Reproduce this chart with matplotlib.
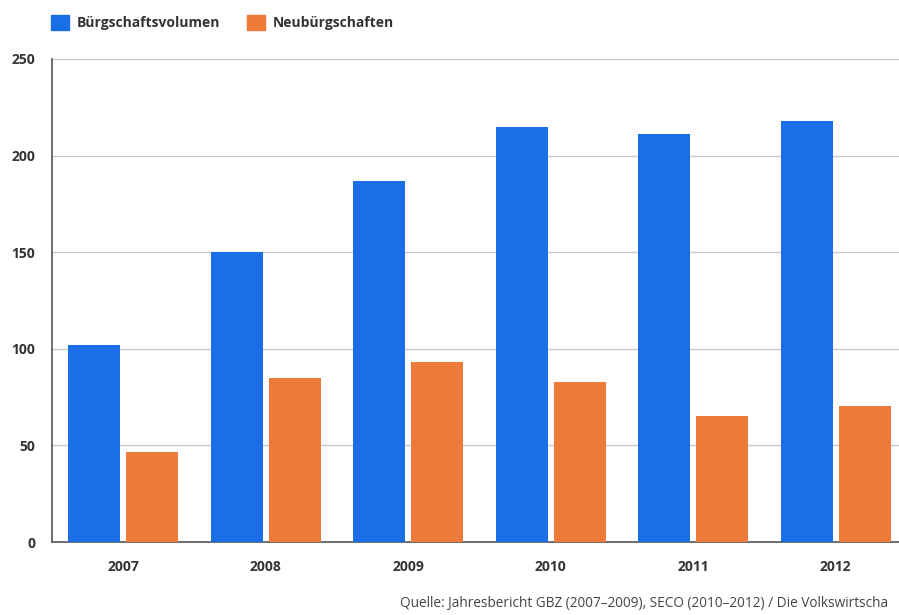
import matplotlib
matplotlib.use("Agg")
import matplotlib.pyplot as plt
import numpy as np
from matplotlib.patches import Patch

years = ["2007", "2008", "2009", "2010", "2011", "2012"]
volumen = [102, 150, 187, 215, 211, 218]
neu = [46.5, 85, 93, 83, 65, 70.5]
series_names = ["Bürgschaftsvolumen", "Neubürgschaften"]
source = "Quelle: Jahresbericht GBZ (2007–2009), SECO (2010–2012) / Die Volkswirtscha"

blue = "#1a6fe6"
orange = "#ef7b3b"
txt = "#333333"

plt.rcParams['font.family'] = ['Open Sans', 'DejaVu Sans']

fig = plt.figure(figsize=(8.99, 6.15), dpi=100)
ax = fig.add_axes([52/899, 1-542/615, 855/899, (542-59)/615])

x = np.arange(len(years))
w = 0.365
off = 0.2035
ax.bar(x - off, volumen, w, color=blue, zorder=3)
ax.bar(x + off, neu, w, color=orange, zorder=3)

ax.set_xlim(-0.5, len(years) - 0.5)
ax.set_ylim(0, 250)
ax.set_yticks([0, 50, 100, 150, 200, 250])
ax.set_xticks(x)
ax.set_xticklabels(years)
ax.grid(axis='y', color='#c8c8c8', linewidth=1.0, zorder=0)
for s in ['top', 'right']:
    ax.spines[s].set_visible(False)
for s in ['left', 'bottom']:
    ax.spines[s].set_color('#555555')
    ax.spines[s].set_linewidth(1.2)
ax.tick_params(axis='both', length=0, labelsize=10, labelcolor=txt)
ax.tick_params(axis='y', pad=12)
ax.tick_params(axis='x', pad=13)
for lab in ax.get_xticklabels() + ax.get_yticklabels():
    lab.set_fontweight('bold')

handles = [Patch(color=blue), Patch(color=orange)]
leg = fig.legend(handles, series_names, loc='upper left', bbox_to_anchor=(38/899, 1.0 - 2/615),
                 ncol=2, frameon=False, handlelength=1.3, handleheight=1.3,
                 handletextpad=0.6, columnspacing=1.9, prop={'size': 10, 'weight': 'bold'})
for t in leg.get_texts():
    t.set_color(txt)

fig.text(400/899, 1-603/615, source, fontsize=9.8, color='#444444', va='center', ha='left')

fig.savefig("out.png", dpi=100)
